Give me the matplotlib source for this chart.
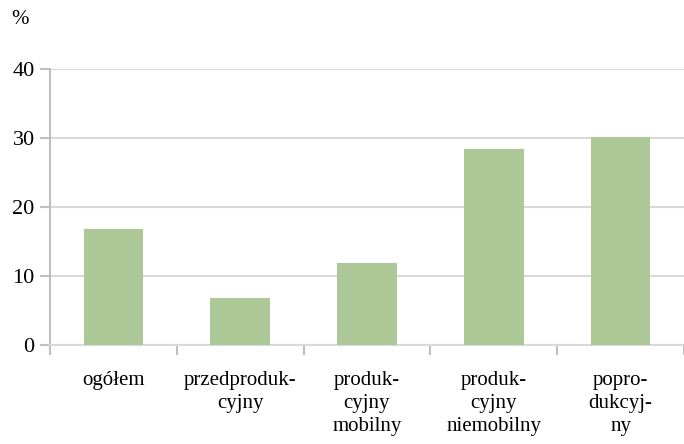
import matplotlib
matplotlib.use("Agg")
import matplotlib.pyplot as plt
import numpy as np

categories = ["ogółem", "przedproduk-\ncyjny", "produk-\ncyjny\nmobilny", "produk-\ncyjny\nniemobilny", "popro-\ndukcyj-\nny"]
values = [16.8, 6.8, 11.9, 28.4, 30.1]
yticks = [0, 10, 20, 30, 40]

plt.rcParams['font.family'] = 'serif'
plt.rcParams['font.serif'] = ['Liberation Serif', 'DejaVu Serif']
fig = plt.figure(figsize=(6.84, 4.44), dpi=100)
ax = fig.add_axes([50/684, 1-345/444, 634/684, 276/444])

x = np.arange(len(categories))
ax.bar(x, values, width=0.47, color="#acc896", zorder=3)
ax.set_xlim(-0.5, len(categories) - 0.5)
ax.set_ylim(0, 40)
ax.set_yticks(yticks)
ax.set_yticklabels([str(v) for v in yticks], fontsize=16)
ax.yaxis.grid(True, color="#d9d9d9", linewidth=1.5, zorder=0)
ax.tick_params(axis='y', length=7, color="#bfbfbf", width=1.5, pad=4)

ax.set_xticks(x)
ax.set_xticklabels(categories, fontsize=15, linespacing=1.27, va='top')
ax.tick_params(axis='x', which='major', length=0, pad=19)
ax.set_xticks(np.arange(-0.5, len(categories) - 0.4, 1), minor=True)
ax.tick_params(axis='x', which='minor', length=7, color="#bfbfbf", width=1.5)

for s in ['top', 'right']:
    ax.spines[s].set_visible(False)
for s in ['left', 'bottom']:
    ax.spines[s].set_color("#bfbfbf")
    ax.spines[s].set_linewidth(1.5)
ax.spines['bottom'].set_color("#d9d9d9")

fig.text(11/684, 1-20/444, "%", fontsize=15, va='center', ha='left')

fig.savefig("out.png", dpi=100)
